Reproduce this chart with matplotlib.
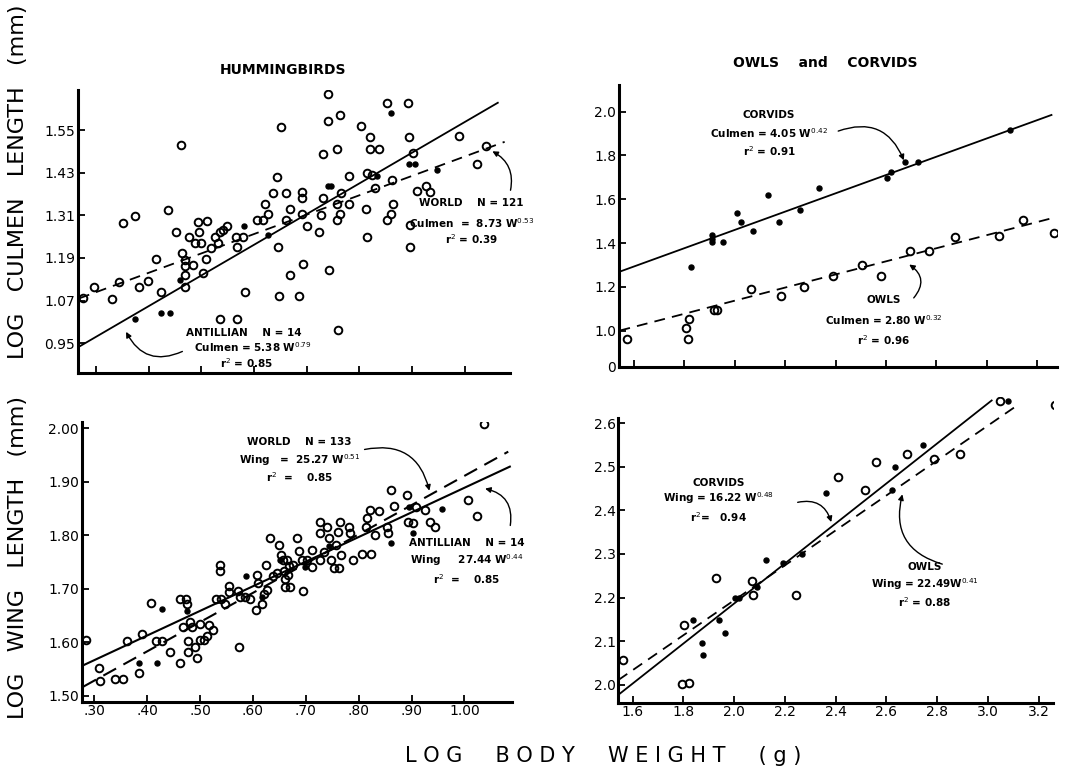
import numpy as np
import matplotlib
matplotlib.use('Agg')
import matplotlib.pyplot as plt

# ---- hummingbirds, culmen (top left)
hb_cul_open_x = [0.275, 0.297, 0.330, 0.344, 0.352, 0.375, 0.382, 0.399, 0.423, 0.415,
                 0.437, 0.453, 0.461, 0.463, 0.469, 0.470, 0.469, 0.470, 0.477, 0.485,
                 0.488, 0.494, 0.496, 0.500, 0.504, 0.510, 0.511, 0.518, 0.526, 0.532,
                 0.535, 0.542, 0.549, 0.535, 0.567, 0.566, 0.568, 0.580, 0.583, 0.605,
                 0.617, 0.621, 0.627, 0.637, 0.646, 0.648, 0.652, 0.644, 0.661, 0.661,
                 0.669, 0.668, 0.686, 0.692, 0.692, 0.692, 0.694, 0.700, 0.724, 0.728,
                 0.731, 0.731, 0.740, 0.740, 0.743, 0.757, 0.757, 0.759, 0.763, 0.764,
                 0.766, 0.758, 0.781, 0.781, 0.804, 0.812, 0.814, 0.820, 0.821, 0.837,
                 0.829, 0.814, 0.853, 0.852, 0.861, 0.863, 0.864, 0.893, 0.895, 0.896,
                 0.897, 0.902, 0.910, 0.927, 0.935, 0.989, 1.024, 1.040, 0.825]
hb_cul_open_y = [1.076, 1.107, 1.075, 1.122, 1.289, 1.308, 1.109, 1.125, 1.095, 1.187,
                 1.325, 1.264, 1.508, 1.203, 1.184, 1.167, 1.142, 1.109, 1.250, 1.170,
                 1.231, 1.292, 1.264, 1.231, 1.148, 1.186, 1.295, 1.217, 1.250, 1.231,
                 1.264, 1.268, 1.280, 1.019, 1.019, 1.250, 1.221, 1.250, 1.095, 1.296,
                 1.296, 1.342, 1.315, 1.372, 1.221, 1.082, 1.559, 1.419, 1.372, 1.298,
                 1.143, 1.329, 1.082, 1.376, 1.360, 1.315, 1.174, 1.280, 1.264, 1.311,
                 1.482, 1.360, 1.653, 1.576, 1.157, 1.498, 1.296, 0.988, 1.315, 1.592,
                 1.373, 1.342, 1.343, 1.420, 1.561, 1.329, 1.250, 1.531, 1.498, 1.498,
                 1.388, 1.428, 1.625, 1.298, 1.315, 1.409, 1.343, 1.625, 1.531, 1.284,
                 1.221, 1.486, 1.378, 1.392, 1.376, 1.533, 1.454, 1.505, 1.423]
hb_cul_fill_x = [0.374, 0.423, 0.440, 0.459, 0.581, 0.627, 0.741, 0.747, 0.861, 0.895, 0.905, 0.948, 0.833]
hb_cul_fill_y = [1.018, 1.034, 1.035, 1.127, 1.280, 1.254, 1.392, 1.392, 1.597, 1.454, 1.454, 1.437, 1.421]
hb_cul_ant_line = ([0.268, 1.063], [0.940, 1.627])
hb_cul_world_line = ([0.268, 1.076], [1.076, 1.517])

# ---- owls and corvids, culmen (top right)
oc_cul_corv_x = [1.825, 1.908, 1.908, 1.908, 1.954, 2.007, 2.023, 2.074, 2.133, 2.177,
                 2.259, 2.335, 2.603, 2.619, 2.675, 2.728, 3.092]
oc_cul_corv_y = [1.289, 1.437, 1.417, 1.403, 1.406, 1.536, 1.495, 1.457, 1.619, 1.498,
                 1.551, 1.650, 1.696, 1.726, 1.772, 1.769, 1.916]
oc_cul_owl_x = [1.571, 1.806, 1.818, 1.816, 1.917, 1.928, 2.064, 2.182, 2.275, 2.388,
                2.503, 2.580, 2.695, 2.772, 2.874, 3.050, 3.145, 3.267]
oc_cul_owl_y = [0.960, 1.011, 1.052, 0.960, 1.094, 1.094, 1.190, 1.158, 1.201, 1.250,
                1.300, 1.250, 1.364, 1.365, 1.426, 1.434, 1.505, 1.447]
oc_cul_corv_line = ([1.542, 3.257], [1.269, 1.985])
oc_cul_owl_line = ([1.542, 3.257], [1.000, 1.513])

# ---- hummingbirds, wing (bottom left)
hb_wing_open_x = [0.284, 0.308, 0.311, 0.339, 0.355, 0.361, 0.385, 0.390, 0.407, 0.417,
                  0.427, 0.444, 0.462, 0.462, 0.473, 0.475, 0.468, 0.477, 0.478, 0.481,
                  0.484, 0.490, 0.494, 0.500, 0.507, 0.500, 0.514, 0.516, 0.525, 0.530,
                  0.538, 0.538, 0.540, 0.548, 0.555, 0.555, 0.571, 0.574, 0.576, 0.585,
                  0.595, 0.606, 0.607, 0.610, 0.617, 0.620, 0.626, 0.624, 0.632, 0.637,
                  0.645, 0.650, 0.654, 0.656, 0.659, 0.661, 0.661, 0.664, 0.669, 0.667,
                  0.670, 0.676, 0.684, 0.687, 0.692, 0.694, 0.702, 0.711, 0.711, 0.726,
                  0.727, 0.726, 0.734, 0.741, 0.743, 0.747, 0.754, 0.758, 0.760, 0.762,
                  0.765, 0.766, 0.782, 0.783, 0.790, 0.806, 0.823, 0.814, 0.815, 0.821,
                  0.838, 0.830, 0.853, 0.855, 0.862, 0.866, 0.892, 0.894, 0.902, 0.908,
                  0.926, 0.935, 0.944, 1.007, 1.024, 1.038]
hb_wing_open_y = [1.604, 1.551, 1.527, 1.531, 1.531, 1.603, 1.542, 1.615, 1.673, 1.603,
                  1.603, 1.581, 1.562, 1.681, 1.681, 1.671, 1.629, 1.603, 1.581, 1.638,
                  1.628, 1.592, 1.570, 1.604, 1.604, 1.634, 1.612, 1.632, 1.622, 1.680,
                  1.744, 1.734, 1.680, 1.671, 1.705, 1.693, 1.695, 1.592, 1.684, 1.685,
                  1.680, 1.661, 1.726, 1.710, 1.671, 1.691, 1.698, 1.744, 1.794, 1.723,
                  1.729, 1.782, 1.763, 1.754, 1.734, 1.719, 1.704, 1.754, 1.743, 1.726,
                  1.704, 1.744, 1.794, 1.771, 1.754, 1.696, 1.753, 1.772, 1.741, 1.824,
                  1.804, 1.754, 1.769, 1.816, 1.794, 1.754, 1.738, 1.782, 1.805, 1.738,
                  1.824, 1.763, 1.815, 1.804, 1.754, 1.765, 1.765, 1.815, 1.832, 1.847,
                  1.846, 1.800, 1.816, 1.804, 1.885, 1.855, 1.875, 1.825, 1.822, 1.853,
                  1.847, 1.825, 1.815, 1.866, 1.835, 2.008]
hb_wing_fill_x = [0.427, 0.385, 0.418, 0.475, 0.587, 0.617, 0.651, 0.698, 0.743, 0.862, 0.896, 0.903, 0.957]
hb_wing_fill_y = [1.662, 1.562, 1.562, 1.659, 1.724, 1.685, 1.754, 1.741, 1.779, 1.786, 1.853, 1.804, 1.849]
hb_wing_world_line = ([0.279, 1.083], [1.517, 1.956])
hb_wing_ant_line = ([0.279, 1.086], [1.557, 1.928])

# ---- owls and corvids, wing (bottom right)
oc_wing_owl_x = [1.563, 1.793, 1.824, 1.804, 1.927, 2.071, 2.073, 2.243, 2.411, 2.514,
                 2.560, 2.680, 2.786, 2.891, 3.046, 3.265]
oc_wing_owl_y = [2.057, 2.002, 2.005, 2.137, 2.244, 2.237, 2.206, 2.206, 2.476, 2.447,
                 2.510, 2.530, 2.518, 2.530, 2.650, 2.642]
oc_wing_corv_x = [1.839, 1.872, 1.876, 1.942, 1.964, 2.004, 2.019, 2.089, 2.125, 2.192,
                  2.266, 2.361, 2.621, 2.634, 2.743, 3.079]
oc_wing_corv_y = [2.149, 2.097, 2.069, 2.149, 2.118, 2.199, 2.199, 2.225, 2.287, 2.279,
                  2.300, 2.439, 2.447, 2.499, 2.549, 2.650]
oc_wing_corv_line = ([1.544, 3.015], [1.977, 2.652])
oc_wing_owl_line = ([1.544, 3.114], [2.011, 2.640])

hb_xticks = [0.30, 0.40, 0.50, 0.60, 0.70, 0.80, 0.90, 1.00]
hb_xlabels = ['.30', '.40', '.50', '.60', '.70', '.80', '.90', '1.00']
oc_xticks = [1.6, 1.8, 2.0, 2.2, 2.4, 2.6, 2.8, 3.0, 3.2]
oc_xlabels = ['1.6', '1.8', '2.0', '2.2', '2.4', '2.6', '2.8', '3.0', '3.2']
hb_cul_yticks = [0.95, 1.07, 1.19, 1.31, 1.43, 1.55]
hb_cul_ylabels = ['0.95', '1.07', '1.19', '1.31', '1.43', '1.55']
oc_cul_yticks = [0.834, 1.0, 1.2, 1.4, 1.6, 1.8, 2.0]
oc_cul_ylabels = ['0', '1.0', '1.2', '1.4', '1.6', '1.8', '2.0']
hb_wing_yticks = [1.50, 1.60, 1.70, 1.80, 1.90, 2.00]
hb_wing_ylabels = ['1.50', '1.60', '1.70', '1.80', '1.90', '2.00']
oc_wing_yticks = [2.0, 2.1, 2.2, 2.3, 2.4, 2.5, 2.6]
oc_wing_ylabels = ['2.0', '2.1', '2.2', '2.3', '2.4', '2.5', '2.6']

fig = plt.figure(figsize=(10.65, 7.71), dpi=100)


def style(ax, xlim, ylim, xticks, yticks, ylabels, xlabels=None):
    ax.set_xlim(xlim)
    ax.set_ylim(ylim)
    for s in ['top', 'right']:
        ax.spines[s].set_visible(False)
    for s in ['left', 'bottom']:
        ax.spines[s].set_linewidth(2.2)
    ax.set_xticks(xticks)
    ax.set_yticks(yticks)
    if xlabels is None:
        ax.set_xticklabels([])
    else:
        ax.set_xticklabels(xlabels)
    ax.set_yticklabels(ylabels)
    ax.tick_params(direction='in', length=5, width=1.3, labelsize=10, pad=2)


def opens(ax, x, y):
    ax.plot(x, y, 'o', ms=5.5, mfc='none', mec='black', mew=1.4, zorder=3)


def dots(ax, x, y):
    ax.plot(x, y, 'o', ms=3.6, color='black', zorder=3)


def note(ax, x, ys, lines):
    for yy, t in zip(ys, lines):
        ax.text(x, yy, t, ha='center', va='center', fontsize=7.5, fontweight='bold')


def arrow(ax, start, end, rad):
    ax.annotate('', xy=end, xytext=start,
                arrowprops=dict(arrowstyle='-|>', color='black', lw=1.0, mutation_scale=8,
                                connectionstyle='arc3,rad=%s' % rad))


# top left
ax1 = fig.add_axes([0.0732, 0.5162, 0.4056, 0.3671])
style(ax1, (0.266, 1.086), (0.866, 1.663), hb_xticks, hb_cul_yticks, hb_cul_ylabels)
ax1.plot(*hb_cul_ant_line, color='black', lw=1.3)
ax1.plot(*hb_cul_world_line, color='black', lw=1.3, dashes=(6, 4))
opens(ax1, hb_cul_open_x, hb_cul_open_y)
dots(ax1, hb_cul_fill_x, hb_cul_fill_y)
note(ax1, 1.013, [1.344, 1.289, 1.243],
     ['WORLD    N = 121', 'Culmen  =  8.73 W$^{0.53}$', 'r$^2$ = 0.39'])
arrow(ax1, (1.086, 1.373), (1.048, 1.494), 0.4)
note(ax1, 0.58, [0.978, 0.939, 0.894],
     ['ANTILLIAN    N = 14', '     Culmen = 5.38 W$^{0.79}$', '  r$^2$ = 0.85'])
arrow(ax1, (0.469, 0.930), (0.355, 0.989), -0.5)

# top right
ax2 = fig.add_axes([0.5812, 0.5240, 0.4113, 0.3658])
style(ax2, (1.540, 3.279), (0.834, 2.122), oc_xticks, oc_cul_yticks, oc_cul_ylabels)
ax2.plot(*oc_cul_corv_line, color='black', lw=1.3)
ax2.plot(*oc_cul_owl_line, color='black', lw=1.3, dashes=(6, 4))
dots(ax2, oc_cul_corv_x, oc_cul_corv_y)
opens(ax2, oc_cul_owl_x, oc_cul_owl_y)
note(ax2, 2.136, [1.985, 1.903, 1.821],
     ['CORVIDS', 'Culmen = 4.05 W$^{0.42}$', 'r$^2$ = 0.91'])
arrow(ax2, (2.40, 1.907), (2.675, 1.766), -0.5)
note(ax2, 2.59, [1.140, 1.049, 0.958],
     ['OWLS', 'Culmen = 2.80 W$^{0.32}$', 'r$^2$ = 0.96'])
arrow(ax2, (2.703, 1.140), (2.683, 1.309), 0.6)

# bottom left
ax3 = fig.add_axes([0.0767, 0.0899, 0.4040, 0.3632])
style(ax3, (0.276, 1.090), (1.489, 2.012), hb_xticks, hb_wing_yticks, hb_wing_ylabels, hb_xlabels)
ax3.plot(*hb_wing_ant_line, color='black', lw=1.5)
ax3.plot(*hb_wing_world_line, color='black', lw=1.5, dashes=(7, 4))
opens(ax3, hb_wing_open_x, hb_wing_open_y)
dots(ax3, hb_wing_fill_x, hb_wing_fill_y)
note(ax3, 0.688, [1.974, 1.941, 1.909],
     ['WORLD    N = 133', 'Wing   =  25.27 W$^{0.51}$', 'r$^2$  =    0.85'])
arrow(ax3, (0.806, 1.959), (0.935, 1.878), -0.5)
note(ax3, 1.005, [1.785, 1.754, 1.718],
     ['ANTILLIAN    N = 14', 'Wing     27.44 W$^{0.44}$', 'r$^2$  =    0.85'])
arrow(ax3, (1.086, 1.813), (1.034, 1.888), 0.5)

# bottom right
ax4 = fig.add_axes([0.5806, 0.0886, 0.4082, 0.3965])
style(ax4, (1.544, 3.257), (1.959, 2.660), oc_xticks, oc_wing_yticks, oc_wing_ylabels, oc_xlabels)
ax4.spines['left'].set_bounds(1.959, 2.611)
ax4.plot(*oc_wing_corv_line, color='black', lw=1.3)
ax4.plot(*oc_wing_owl_line, color='black', lw=1.3, dashes=(6, 4))
opens(ax4, oc_wing_owl_x, oc_wing_owl_y)
dots(ax4, oc_wing_corv_x, oc_wing_corv_y)
note(ax4, 1.94, [2.463, 2.429, 2.385],
     ['CORVIDS', 'Wing = 16.22 W$^{0.48}$', 'r$^2$=   0.94'])
arrow(ax4, (2.240, 2.417), (2.386, 2.367), -0.5)
note(ax4, 2.75, [2.270, 2.231, 2.190],
     ['OWLS', 'Wing = 22.49W$^{0.41}$', 'r$^2$ = 0.88'])
arrow(ax4, (2.831, 2.275), (2.666, 2.443), -0.5)

fig.text(0.2657, 0.9092, 'HUMMINGBIRDS', ha='center', va='center', fontsize=10, fontweight='bold')
fig.text(0.7746, 0.9183, 'OWLS    and    CORVIDS', ha='center', va='center', fontsize=10, fontweight='bold')
fig.text(0.0169, 0.764, 'LOG   CULMEN   LENGTH   (mm)', rotation=90, ha='center', va='center', fontsize=16)
fig.text(0.0169, 0.2775, 'LOG   WING   LENGTH   (mm)', rotation=90, ha='center', va='center', fontsize=16)
fig.text(0.566, 0.0195, 'L O G     B O D Y     W E I G H T     ( g )', ha='center', va='center', fontsize=15)

fig.savefig('out.png', dpi=100)
